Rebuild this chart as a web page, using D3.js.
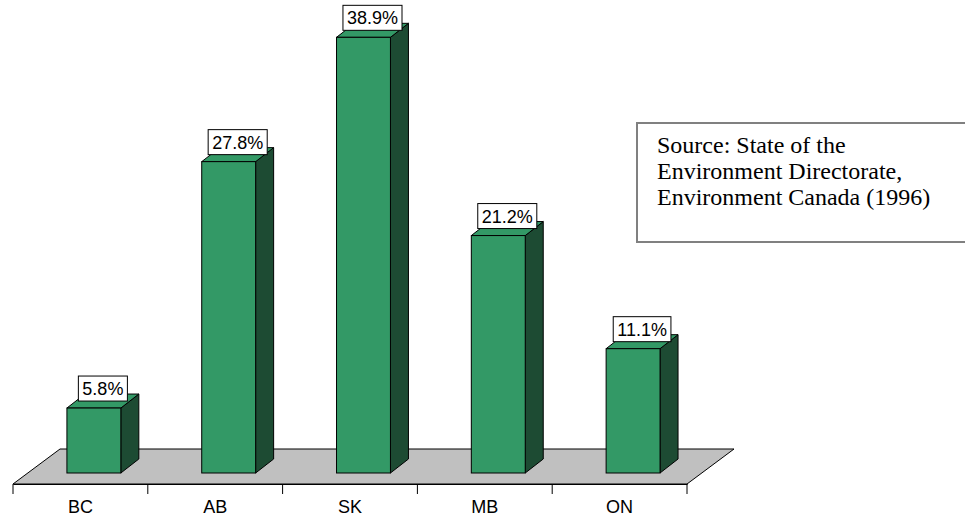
<!DOCTYPE html>
<html>
<head>
<meta charset="utf-8">
<script src="https://cdn.jsdelivr.net/npm/d3@7"></script>
<style>
    body { margin: 0; background: #fff; }
    svg { display: block; }
</style>
</head>
<body>
<script>
const provinces = ['BC', 'AB', 'SK', 'MB', 'ON'];
const shares = [5.8, 27.8, 38.9, 21.2, 11.1];
const sourceLines = ['Source: State of the', 'Environment Directorate,', 'Environment Canada (1996)'];

const width = 965, height = 516;
const floorFront = 484, floorDx = 47, floorDy = -35;
const baseY = 473, barDx = 18, barDy = -14;

const svg = d3.select('body')
    .append('svg')
    .attr('width', width)
    .attr('height', height);

const x = d3.scaleBand()
    .domain(provinces)
    .range([13, 687])
    .padding(0);

const y = d3.scaleLinear()
    .domain([0, 40])
    .range([baseY, 25]);

const bw = x.bandwidth();
const x0 = x.range()[0], x1 = x.range()[1];

// floor
svg.append('polygon')
    .attr('points', [
        [x0, floorFront], [x1, floorFront],
        [x1 + floorDx, floorFront + floorDy], [x0 + floorDx, floorFront + floorDy]
    ].join(' '))
    .attr('fill', '#c0c0c0')
    .attr('stroke', '#000')
    .attr('stroke-width', 1);

// category axis
const xAxis = d3.axisBottom(x).tickSize(0).tickPadding(16);
const axisG = svg.append('g')
    .attr('transform', 'translate(0,' + floorFront + ')')
    .call(xAxis);
axisG.select('.domain').attr('stroke', '#000');
axisG.selectAll('text')
    .attr('font-family', 'Liberation Sans, Arial, sans-serif')
    .attr('font-size', 18)
    .attr('fill', '#000');

const bounds = provinces.map(function(p) { return x(p); }).concat([x1]);
axisG.selectAll('line.bound')
    .data(bounds)
    .enter()
    .append('line')
    .attr('class', 'bound')
    .attr('x1', function(d) { return d; })
    .attr('x2', function(d) { return d; })
    .attr('y1', 0)
    .attr('y2', 10)
    .attr('stroke', '#000');

// bars
const data = provinces.map(function(p, i) { return { p: p, v: shares[i] }; });
const barW = bw * 0.4;

const bars = svg.selectAll('g.bar')
    .data(data)
    .enter()
    .append('g')
    .attr('class', 'bar');

bars.append('polygon')
    .attr('points', function(d) {
        const l = x(d.p) + bw * 0.4, r = l + barW, t = y(d.v);
        return [[r, t], [r + barDx, t + barDy], [r + barDx, baseY + barDy], [r, baseY]].join(' ');
    })
    .attr('fill', '#1d4b33')
    .attr('stroke', '#000');

bars.append('polygon')
    .attr('points', function(d) {
        const l = x(d.p) + bw * 0.4, r = l + barW, t = y(d.v);
        return [[l, t], [l + barDx, t + barDy], [r + barDx, t + barDy], [r, t]].join(' ');
    })
    .attr('fill', '#339966')
    .attr('stroke', '#000');

bars.append('rect')
    .attr('x', function(d) { return x(d.p) + bw * 0.4; })
    .attr('y', function(d) { return y(d.v); })
    .attr('width', barW)
    .attr('height', function(d) { return baseY - y(d.v); })
    .attr('fill', '#339966')
    .attr('stroke', '#000');

// value labels
bars.each(function(d) {
    const g = d3.select(this);
    const cx = x(d.p) + bw * 0.4 + (barW + barDx) / 2;
    const bottom = y(d.v) - 7;
    const rect = g.append('rect')
        .attr('fill', '#fff')
        .attr('stroke', '#000');
    const t = g.append('text')
        .attr('x', cx)
        .attr('y', bottom - 6)
        .attr('text-anchor', 'middle')
        .attr('font-family', 'Liberation Sans, Arial, sans-serif')
        .attr('font-size', 18)
        .text(d.v.toFixed(1) + '%');
    const w = t.node().getComputedTextLength() + 8;
    rect.attr('x', cx - w / 2)
        .attr('y', bottom - 25)
        .attr('width', w)
        .attr('height', 25);
});

// source note
svg.append('rect')
    .attr('x', 637)
    .attr('y', 123)
    .attr('width', 360)
    .attr('height', 119)
    .attr('fill', '#fff')
    .attr('stroke', '#808080')
    .attr('stroke-width', 2);

svg.append('g')
    .selectAll('text')
    .data(sourceLines)
    .enter()
    .append('text')
    .attr('x', 657)
    .attr('y', function(d, i) { return 153 + i * 26; })
    .attr('font-family', 'Liberation Serif, Times New Roman, serif')
    .attr('font-size', 24)
    .attr('fill', '#000')
    .text(function(d) { return d; });
</script>
</body>
</html>
